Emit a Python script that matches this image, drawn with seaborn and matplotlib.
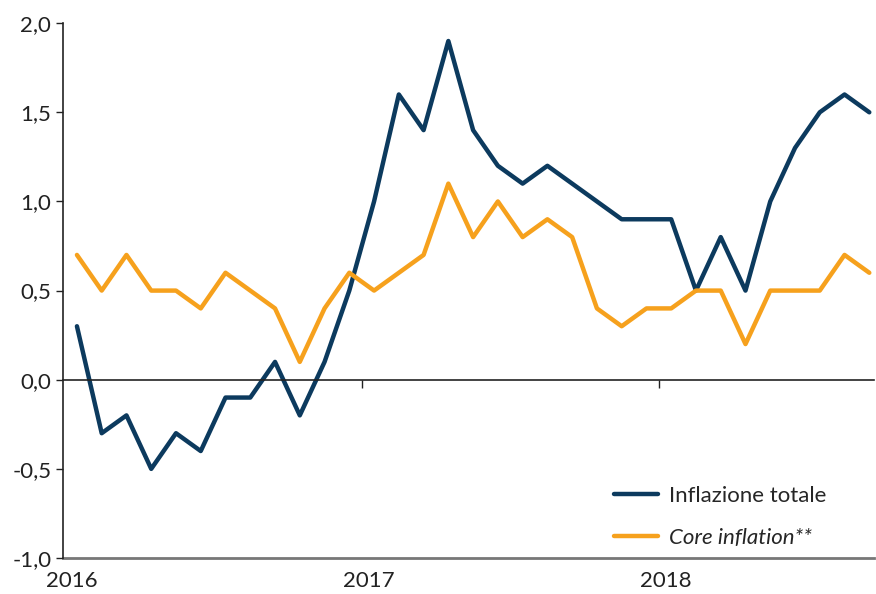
import pandas as pd
import numpy as np
import matplotlib.pyplot as plt
import matplotlib.ticker as mticker
import seaborn as sns

# monthly series Jan 2016 - Sep 2018
mesi = pd.date_range("2016-01-01", "2018-09-01", freq="MS")
totale = [0.3, -0.3, -0.2, -0.5, -0.3, -0.4, -0.1, -0.1, 0.1, -0.2, 0.1, 0.5,
          1.0, 1.6, 1.4, 1.9, 1.4, 1.2, 1.1, 1.2, 1.1, 1.0, 0.9, 0.9,
          0.9, 0.5, 0.8, 0.5, 1.0, 1.3, 1.5, 1.6, 1.5]
core = [0.7, 0.5, 0.7, 0.5, 0.5, 0.4, 0.6, 0.5, 0.4, 0.1, 0.4, 0.6,
        0.5, 0.6, 0.7, 1.1, 0.8, 1.0, 0.8, 0.9, 0.8, 0.4, 0.3, 0.4,
        0.4, 0.5, 0.5, 0.2, 0.5, 0.5, 0.5, 0.7, 0.6]
anni = ["2016", "2017", "2018"]
serie = ["Inflazione totale", "Core inflation**"]
colori = ["#0c3a5e", "#f6a11d"]

df = pd.DataFrame({"idx": np.arange(len(mesi)), "Inflazione totale": totale, "Core inflation**": core})
long = df.melt(id_vars="idx", var_name="serie", value_name="valore")

sns.set_style("white")
plt.rcParams['font.family'] = ['Lato', 'DejaVu Sans']

fig = plt.figure(figsize=(8.76, 5.94), dpi=100)
ax = fig.add_axes([0.072, 0.0606, 0.926, 0.9004])

sns.lineplot(data=long, x="idx", y="valore", hue="serie", hue_order=serie,
             palette=colori, linewidth=3.2, ax=ax, legend=True)

ax.set_xlim(-0.56, 32.2)
ax.set_ylim(-1.0, 2.0)
ax.set_yticks(np.arange(-1.0, 2.01, 0.5))
ax.yaxis.set_major_formatter(mticker.FuncFormatter(lambda v, p: f"{v:.1f}".replace(".", ",")))
ax.tick_params(axis="y", direction="out", length=5, width=1, color="#222222",
               labelsize=16, labelcolor="#222222", left=True)
ax.set_xlabel("")
ax.set_ylabel("")

# zero line as bottom spine with year ticks
for s in ["top", "right"]:
    ax.spines[s].set_visible(False)
ax.spines["left"].set_color("#222222")
ax.spines["left"].set_linewidth(1.2)
ax.spines["bottom"].set_position(("data", 0))
ax.spines["bottom"].set_color("#222222")
ax.spines["bottom"].set_linewidth(1.2)
ax.set_xticks([11.5, 23.5])
ax.set_xticklabels([])
ax.tick_params(axis="x", direction="out", length=6, width=1, color="#222222", bottom=True)

# year labels on the lower axis
sec = ax.secondary_xaxis(0)
sec.set_xticks([-0.2, 11.8, 23.8])
sec.set_xticklabels(anni)
sec.tick_params(length=0, labelsize=16, labelcolor="#222222", pad=9)
sec.spines["bottom"].set_color("#777777")
sec.spines["bottom"].set_linewidth(2)

leg = ax.legend(loc="upper left", bbox_to_anchor=(0.654, 0.172), frameon=False,
                fontsize=16, handlelength=2.0, handletextpad=0.5, labelspacing=1.0)
for line in leg.get_lines():
    line.set_linewidth(3.2)
leg.get_texts()[1].set_fontstyle("italic")

fig.savefig("out.png", dpi=100)
